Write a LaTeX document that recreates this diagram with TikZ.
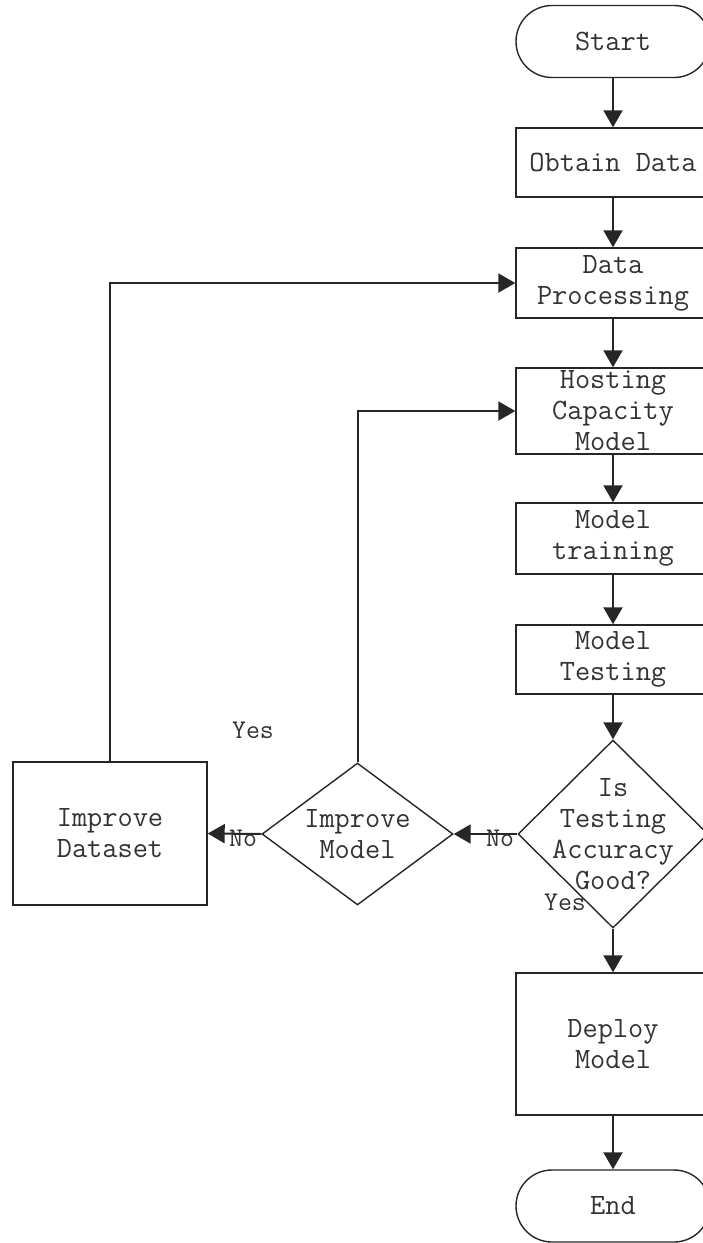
\documentclass[tikz,border=0pt]{standalone}
\usetikzlibrary{shapes.geometric,arrows.meta}
\begin{document}
\begin{tikzpicture}[x=1pt,y=-1pt,
  shp/.style={draw=black!85,line width=1.4pt,inner sep=0pt,fill=white},
  boxshape/.style={shp,rectangle,minimum width=194pt},
  termshape/.style={shp,rectangle,rounded corners=36pt,minimum width=194pt,minimum height=72pt},
  decshape/.style={shp,diamond,inner sep=0pt},
  txt/.style={font=\ttfamily\fontsize{29.5}{31}\selectfont,align=center,inner sep=0pt,text=black!80},
  lbl/.style={font=\ttfamily\fontsize{27}{28}\selectfont,inner sep=0pt,text=black!80},
  conn/.style={draw=black!85,line width=2pt,-{Triangle[length=17pt,width=19pt]}}
]
\useasboundingbox (0,0) rectangle (703,1243);
% shapes
\node[termshape] (start) at (613,41.5) {};
\node[boxshape,minimum height=69pt] (obtain) at (613,162.5) {};
\node[boxshape,minimum height=70pt] (dp) at (613,283) {};
\node[boxshape,minimum height=86pt] (hc) at (613,411) {};
\node[boxshape,minimum height=71pt] (train) at (613,538.5) {};
\node[boxshape,minimum height=69pt] (test) at (613,659.5) {};
\node[decshape,minimum width=190pt,minimum height=188pt] (good) at (613,834) {};
\node[decshape,minimum width=191pt,minimum height=142pt] (impm) at (357.5,834) {};
\node[shp,rectangle,minimum width=194pt,minimum height=143pt] (impd) at (110,833.5) {};
\node[boxshape,minimum height=142pt] (deploy) at (613,1044) {};
\node[termshape,minimum height=72pt] (end) at (613,1206) {};
% texts
\node[txt] (tstart) at (start) {Start};
\node[txt] (tobtain) at (obtain) {Obtain Data};
\node[txt] (tdp) at (dp) {Data\\Processing};
\node[txt] (thc) at (hc) {Hosting\\Capacity\\Model};
\node[txt] (ttrain) at (train) {Model\\training};
\node[txt] (ttest) at (test) {Model\\Testing};
\node[txt] (tgood) at (good) {Is\\Testing\\Accuracy\\Good?};
\node[txt] (timpm) at (impm) {Improve\\Model};
\node[txt] (timpd) at (impd) {Improve\\Dataset};
\node[txt] (tdeploy) at (deploy) {Deploy\\Model};
\node[txt] (tend) at (end) {End};
% connectors
\draw[conn] (start.south) -- (obtain.north);
\draw[conn] (obtain.south) -- (dp.north);
\draw[conn] (dp.south) -- (hc.north);
\draw[conn] (hc.south) -- (train.north);
\draw[conn] (train.south) -- (test.north);
\draw[conn] (test.south) -- (good.north);
\draw[conn] (good.south) -- (deploy.north);
\draw[conn] (deploy.south) -- (end.north);
\draw[conn] (good.west) -- (impm.east);
\draw[conn] (impm.west) -- (impd.east);
\draw[conn] (impm.north) |- (hc.west);
\draw[conn] (impd.north) |- (dp.west);
% labels
\node[lbl] (lno1) at (500,838) {No};
\node[lbl] (lno2) at (243,838) {No};
\node[lbl] (lyes1) at (253,730) {Yes};
\node[lbl] (lyes2) at (565,902) {Yes};
\end{tikzpicture}
\end{document}
